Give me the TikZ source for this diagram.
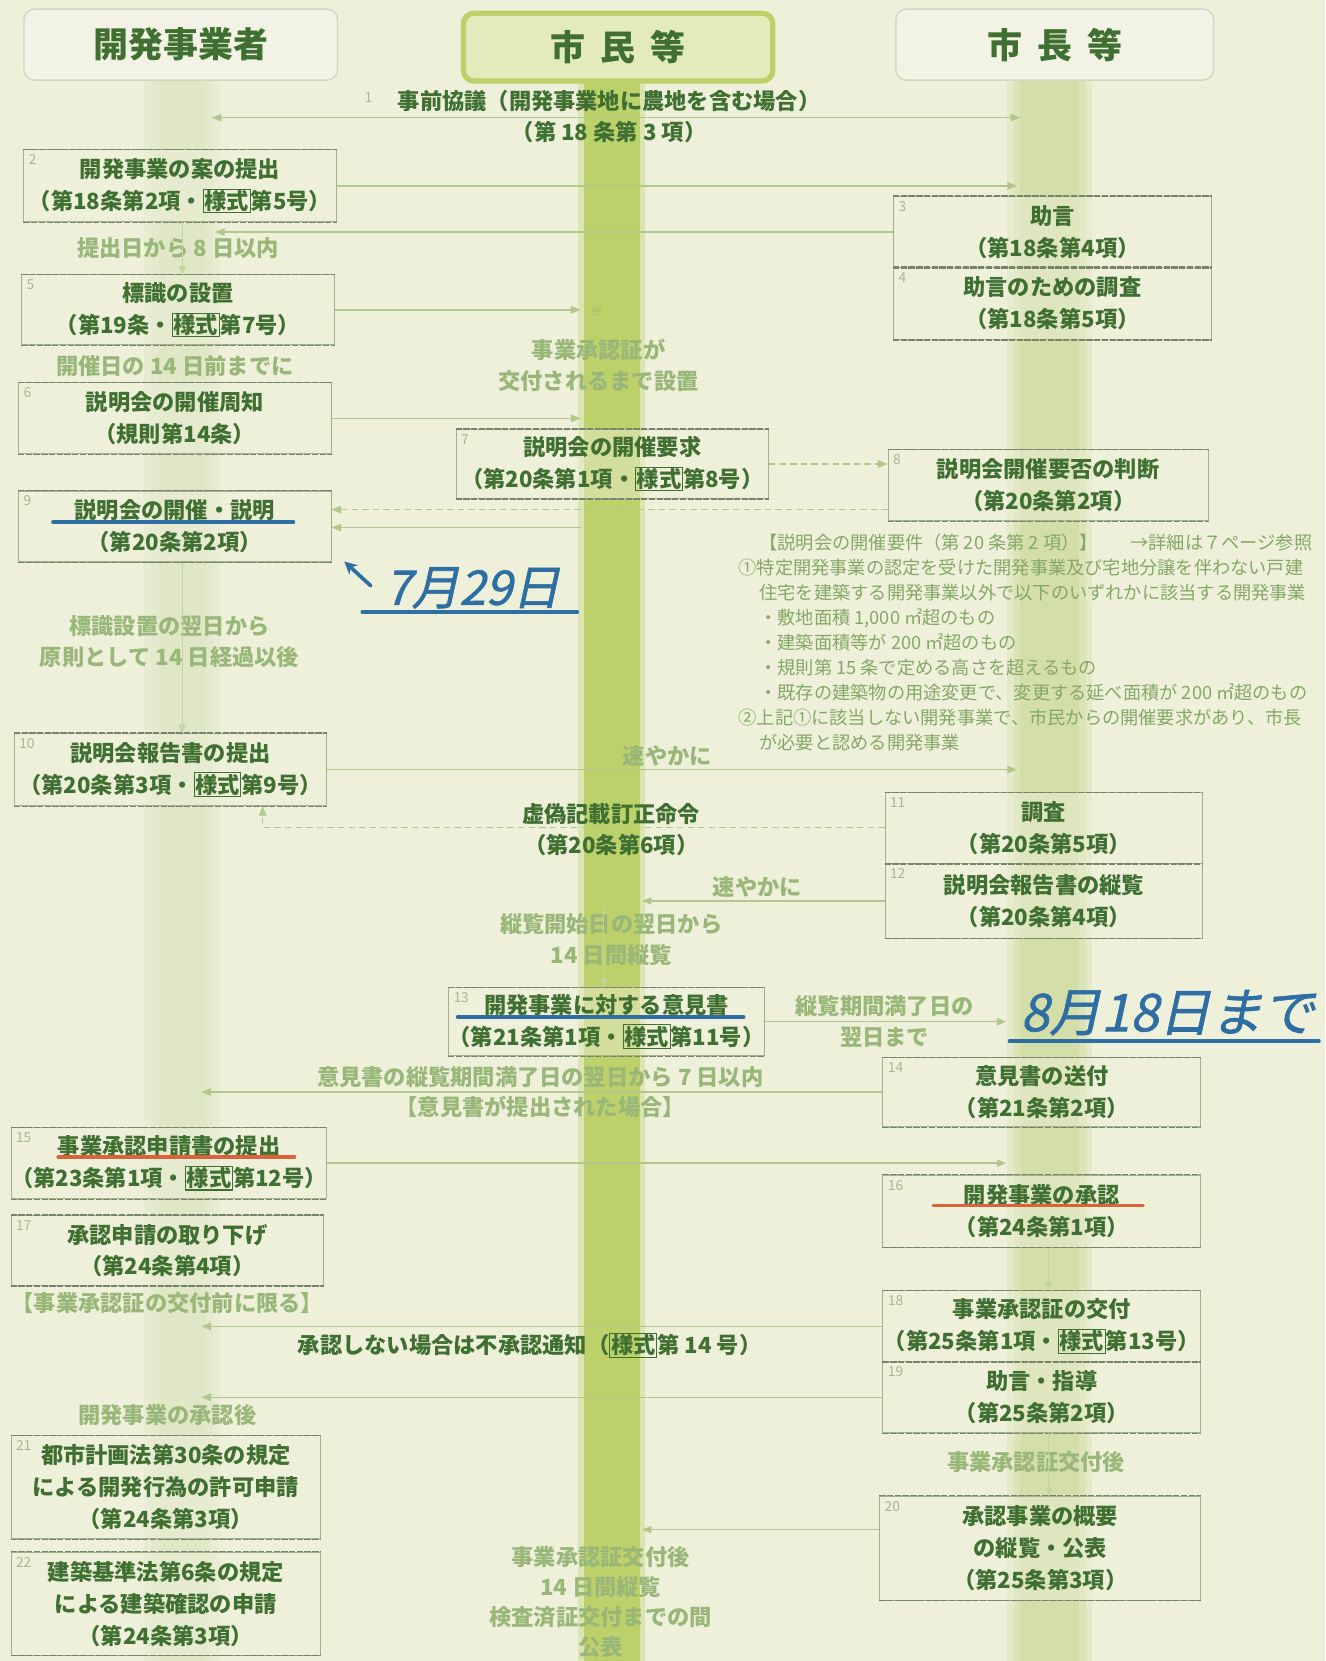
\documentclass[tikz,border=0pt]{standalone}
\usepackage{fontspec}
\setmainfont{Noto Sans CJK JP}
\newfontfamily\handfont{Noto Sans CJK JP}[FakeSlant=0.22, FakeBold=1.2]
\usetikzlibrary{arrows.meta}
\definecolor{bg}{HTML}{EEF0DA}
\definecolor{ink}{HTML}{3F6F31}
\definecolor{fade}{HTML}{98B778}
\definecolor{reqc}{HTML}{84A866}
\definecolor{lin}{HTML}{B2C78C}
\definecolor{bord}{HTML}{A3B08A}
\definecolor{edgec}{HTML}{75846A}
\definecolor{cbar}{HTML}{BDD16A}
\definecolor{rbar}{HTML}{D2DCA4}
\definecolor{lbar}{HTML}{DCE4C0}
\definecolor{hdrb}{HTML}{D3D7C2}
\definecolor{hdrf}{HTML}{F2F3E4}
\definecolor{hcf}{HTML}{E3EABB}
\definecolor{numc}{HTML}{A9B78F}
\definecolor{pen}{HTML}{2E6EA2}
\definecolor{redpen}{HTML}{D9643C}
\newcommand{\ys}{{\setlength{\fboxsep}{0.6pt}\setlength{\fboxrule}{1pt}\fbox{様式}}}
\tikzset{
  bx/.style={draw=bord, line width=1pt, fill=bg, fill opacity=0.45, text opacity=1,
    anchor=north west, inner sep=0pt, align=center, text=ink,
    font=\bfseries\fontsize{21}{30}\selectfont},
  hdr/.style={draw=hdrb, line width=1.3pt, rounded corners=10pt, fill=hdrf,
    anchor=north west, text=ink, font=\bfseries\fontsize{33}{33}\selectfont},
  nm/.style={anchor=north west, inner sep=1pt, text=numc, font=\fontsize{13}{13}\selectfont},
  lbl/.style={align=center, inner sep=0pt, text=fade, font=\bfseries\fontsize{21}{29}\selectfont},
  lbk/.style={align=center, inner sep=0pt, text=ink, font=\bfseries\fontsize{21}{29}\selectfont},
  arr/.style={draw=lin, line width=1.3pt, -{Triangle[length=9pt,width=7pt]}},
  darr/.style={arr, dash pattern=on 6pt off 4pt},
  farr/.style={draw=lin!70!bg, line width=1.2pt, -{Triangle[length=8pt,width=7pt]}},
  edgeline/.style={draw=edgec, line width=1.1pt, dash pattern=on 6pt off 1.3pt},
  penline/.style={draw=pen, line width=3.5pt, line cap=round},
  redline/.style={draw=redpen, line width=3.5pt, line cap=round},
  handtxt/.style={inner sep=0pt, text=pen, font=\handfont\fontsize{45}{45}\selectfont}
}
\begin{document}
\begin{tikzpicture}[x=1pt,y=-1pt]
\useasboundingbox (0,0) rectangle (1251,1568);
\fill[bg] (0,0) rectangle (1251,1568);
% column bars
\foreach \w/\o in {36/0.3,29/0.35,22/0.4} {\fill[lbar,opacity=\o] (172-\w,75) rectangle (172+\w,1568);}
\foreach \w/\o in {40/0.35,34/0.45,28/0.7} {\fill[rbar,opacity=\o] (991-\w,75) rectangle (991+\w,1568);}
\fill[cbar,opacity=0.35] (546,75) rectangle (609,1568);
\fill[cbar] (551,75) rectangle (604,1568);

% headers
\node[hdr, minimum width=296pt, minimum height=67pt] (hl) at (22,8) {開発事業者};
\node[hdr, draw=cbar, line width=5pt, fill=hcf, minimum width=292pt, minimum height=64pt] (hc) at (435,10) {市\hspace{14pt}民\hspace{14pt}等};
\node[hdr, minimum width=300pt, minimum height=67pt] (hr) at (845,8) {市\hspace{14pt}長\hspace{14pt}等};

% boxes
\node[bx, minimum width=295pt, minimum height=68pt] (b2) at (22,141) {開発事業の案の提出\\（第18条第2項・\ys 第5号）};
\node[bx, minimum width=300pt, minimum height=67pt] (b3) at (843,185) {助言\\（第18条第4項）};
\node[bx, minimum width=300pt, minimum height=68pt] (b4) at (843,252) {助言のための調査\\（第18条第5項）};
\node[bx, minimum width=295pt, minimum height=66pt] (b5) at (20,259) {標識の設置\\（第19条・\ys 第7号）};
\node[bx, minimum width=295pt, minimum height=67pt] (b6) at (17,361) {説明会の開催周知\\（規則第14条）};
\node[bx, minimum width=295pt, minimum height=65pt] (b7) at (430,405) {説明会の開催要求\\（第20条第1項・\ys 第8号）};
\node[bx, minimum width=302pt, minimum height=67pt] (b8) at (838,424) {説明会開催要否の判断\\（第20条第2項）};
\node[bx, minimum width=295pt, minimum height=67pt] (b9) at (17,463) {説明会の開催・説明\\（第20条第2項）};
\node[bx, minimum width=295pt, minimum height=68pt] (b10) at (13,692) {説明会報告書の提出\\（第20条第3項・\ys 第9号）};
\node[bx, minimum width=300pt, minimum height=67pt] (b11) at (835,748) {調査\\（第20条第5項）};
\node[bx, minimum width=300pt, minimum height=70pt] (b12) at (835,815) {説明会報告書の縦覧\\（第20条第4項）};
\node[bx, minimum width=294pt, minimum height=64pt] (b13) at (423,932) {開発事業に対する意見書\\（第21条第1項・\ys 第11号）};
\node[bx, minimum width=300pt, minimum height=65pt] (b14) at (833,998) {意見書の送付\\（第21条第2項）};
\node[bx, minimum width=295pt, minimum height=67pt] (b15) at (10,1064) {事業承認申請書の提出\\（第23条第1項・\ys 第12号）};
\node[bx, minimum width=300pt, minimum height=68pt] (b16) at (833,1109) {開発事業の承認\\（第24条第1項）};
\node[bx, minimum width=295pt, minimum height=66pt] (b17) at (10,1147) {承認申請の取り下げ\\（第24条第4項）};
\node[bx, minimum width=300pt, minimum height=67pt] (b18) at (833,1218) {事業承認証の交付\\（第25条第1項・\ys 第13号）};
\node[bx, minimum width=300pt, minimum height=67pt] (b19) at (833,1285) {助言・指導\\（第25条第2項）};
\node[bx, minimum width=303pt, minimum height=98pt] (b20) at (830,1412) {承認事業の概要\\の縦覧・公表\\（第25条第3項）};
\node[bx, minimum width=292pt, minimum height=97pt] (b21) at (10,1355) {都市計画法第30条の規定\\による開発行為の許可申請\\（第24条第3項）};
\node[bx, minimum width=292pt, minimum height=97pt] (b22) at (10,1465) {建築基準法第6条の規定\\による建築確認の申請\\（第24条第3項）};
\foreach \n in {b2,b3,b4,b5,b6,b7,b8,b9,b10,b11,b12,b13,b14,b15,b16,b17,b18,b19,b20,b21,b22}
  {\draw[edgeline] (\n.north west) -- (\n.north east) (\n.south west) -- (\n.south east);}

% box numbers
\foreach \n/\t in {b2/2,b3/3,b4/4,b5/5,b6/6,b7/7,b8/8,b9/9,b10/10,b11/11,b12/12,b13/13,b14/14,b15/15,b16/16,b17/17,b18/18,b19/19,b20/20,b21/21,b22/22}
  {\node[nm] (num\n) at ([xshift=4pt,yshift=-4pt]\n.north west) {\t};}

% line 1
\node[lbk] (l1) at (575,110) {事前協議（開発事業地に農地を含む場合）\\（第 18 条第 3 項）};
\node[nm] (l1n) at (343,86) {1};

% labels
\node[lbl] (la1) at (168,234) {提出日から 8 日以内};
\node[lbl] (la2) at (565,345) {事業承認証が\\交付されるまで設置};
\node[lbl, font=\fontsize{12}{12}\selectfont] (la2m) at (563,294) {※};
\node[lbl] (la3) at (165,346) {開催日の 14 日前までに};
\node[lbl] (la4) at (160,606) {標識設置の翌日から\\原則として 14 日経過以後};
\node[lbl] (la5) at (630,714) {速やかに};
\node[lbk] (la6) at (577,783) {虚偽記載訂正命令\\（第20条第6項）};
\node[lbl] (la7) at (715,837) {速やかに};
\node[lbl] (la8) at (577,887) {縦覧開始日の翌日から\\14 日間縦覧};
\node[lbl] (la9) at (835,964) {縦覧期間満了日の\\翌日まで};
\node[lbl] (la10) at (510,1031) {意見書の縦覧期間満了日の翌日から 7 日以内\\【意見書が提出された場合】};
\node[lbl] (la11) at (158,1230) {【事業承認証の交付前に限る】};
\node[lbk] (la12) at (500,1270) {承認しない場合は不承認通知（\ys 第 14 号）};
\node[lbl] (la13) at (158,1336) {開発事業の承認後};
\node[lbl] (la14) at (978,1380) {事業承認証交付後};
\node[lbl, font=\bfseries\fontsize{21}{28.3}\selectfont] (la15) at (567,1512) {事業承認証交付後\\14 日間縦覧\\検査済証交付までの間\\公表};

% requirements text
\node[anchor=north west, align=left, inner sep=0pt, text=reqc, font=\fontsize{17.2}{23.6}\selectfont] (req) at (697,504)
{\hspace*{1.15em}【説明会の開催要件（第 20 条第 2 項）】\hspace{1.8em}→詳細は７ページ参照\\
①特定開発事業の認定を受けた開発事業及び宅地分譲を伴わない戸建\\
\hspace*{1.15em}住宅を建築する開発事業以外で以下のいずれかに該当する開発事業\\
\hspace*{1.15em}・敷地面積 1,000 ㎡超のもの\\
\hspace*{1.15em}・建築面積等が 200 ㎡超のもの\\
\hspace*{1.15em}・規則第 15 条で定める高さを超えるもの\\
\hspace*{1.15em}・既存の建築物の用途変更で、変更する延べ面積が 200 ㎡超のもの\\
②上記①に該当しない開発事業で、市民からの開催要求があり、市長\\
\hspace*{1.15em}が必要と認める開発事業};

% coordinates on bars
\coordinate (cbL) at (548,0);
\coordinate (cbR) at (606,0);
\coordinate (rbL) at (960,0);
\coordinate (rbL2) at (950,0);
\coordinate (lbR) at (203,0);
\coordinate (lbR2) at (190,0);
\coordinate (lbx) at (172,0);
\coordinate (rbx) at (990,0);
\coordinate (cbx) at (570,0);
\coordinate (x248) at (248,0);
\coordinate (y481) at (0,481);
\coordinate (y498) at (0,498);
\coordinate (y781) at (0,781);
\coordinate (y853) at (0,853);
\coordinate (y1444) at (0,1444);
\coordinate (l1a) at (200,111);
\coordinate (l1b) at (963,111);

% connectors
\draw[arr, {Triangle[length=9pt,width=7pt]}-{Triangle[length=9pt,width=7pt]}] (l1a) -- (l1b);
\draw[arr] (b2.east) -- (b2.east -| rbL);
\draw[arr] (b3.west) -- (b3.west -| lbR);
\draw[farr] (b2.south -| lbx) -- (b5.north -| lbx);
\draw[arr] (b5.east) -- (b5.east -| cbL);
\draw[arr] (b6.east) -- (b6.east -| cbL);
\draw[darr] (b7.east) -- (b8.west |- b7.east);
\draw[darr] (b8.west |- y481) -- (b9.east |- y481);
\draw[arr] (cbL |- y498) -- (b9.east |- y498);
\draw[farr] (b9.south -| lbx) -- (b10.north -| lbx);
\draw[arr] (b10.east) -- (b10.east -| rbL);
\draw[darr] (b11.west |- y781) -| (b10.south -| x248);
\draw[arr] (b12.west) -- (b12.west -| cbR);
\draw[farr] (cbx |- y853) -- (b13.north -| cbx);
\draw[arr] (b13.east) -- (b13.east -| rbL2);
\draw[arr] (b14.west) -- (b14.west -| lbR2);
\draw[arr] (b15.east) -- (b15.east -| rbL2);
\draw[farr] (b16.south -| rbx) -- (b18.north -| rbx);
\draw[arr] (b18.west) -- (b18.west -| lbR2);
\draw[arr] (b19.west) -- (b19.west -| lbR2);
\draw[farr] (b19.south -| rbx) -- (b20.north -| rbx);
\draw[arr] (b20.west |- y1444) -- (cbR |- y1444);

% pen marks
\draw[penline] (50,493) -- (277,493);
\draw[penline] (432,960) -- (702,960);
\draw[redline] (55,1092) -- (278,1092);
\draw[redline] (881,1138) -- (1079,1138);
\node[handtxt] (h1) at (446,555) {7月29日};
\draw[penline] (342,578) -- (545,578);
\draw[penline, -{Stealth[length=12pt,width=12pt]}] (350,553) -- (325,530);
\node[handtxt, font=\handfont\fontsize{49}{49}\selectfont] (h2) at (1102,956) {8月18日まで};
\draw[penline] (953,983) -- (1245,983);
\end{tikzpicture}
\end{document}
